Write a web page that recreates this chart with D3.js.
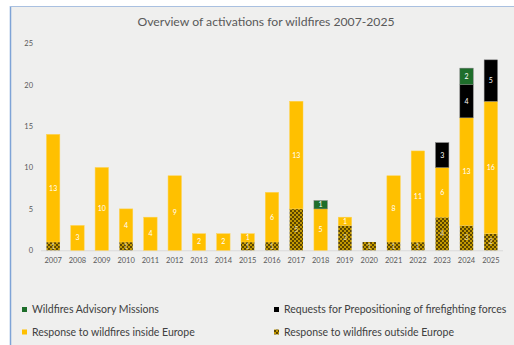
<!DOCTYPE html>
<html><head><meta charset="utf-8">
<script src="https://cdn.jsdelivr.net/npm/d3@7"></script>
<style>
html,body{margin:0;padding:0;background:#fff;}
svg{display:block;}
text{font-family:Lato,"Open Sans",sans-serif;}
</style></head>
<body>
<svg id="chart" width="514" height="345"></svg>
<script>
const years = ["2007","2008","2009","2010","2011","2012","2013","2014","2015","2016","2017","2018","2019","2020","2021","2022","2023","2024","2025"];
const outsideEurope = [1,0,0,1,0,0,0,0,1,1,5,0,3,1,1,1,4,3,2];
const insideEurope  = [13,3,10,4,4,9,2,2,1,6,13,5,1,0,8,11,6,13,16];
const prepositioning = [0,0,0,0,0,0,0,0,0,0,0,0,0,0,0,0,3,4,5];
const advisory      = [0,0,0,0,0,0,0,0,0,0,0,1,0,0,0,0,0,2,0];
const yTicks = [0,5,10,15,20,25];
const seriesNames = ["Wildfires Advisory Missions","Requests for Prepositioning of firefighting forces","Response to wildfires inside Europe","Response to wildfires outside Europe"];

const svg = d3.select("#chart");
// background frame
svg.append("rect").attr("x",10).attr("y",6).attr("width",504).attr("height",339).attr("fill","#efefee");
svg.append("line").attr("x1",10.5).attr("x2",10.5).attr("y1",6).attr("y2",345).attr("stroke","#7ea3d6").attr("stroke-width",1.5);
svg.append("line").attr("x1",10).attr("x2",514).attr("y1",6.5).attr("y2",6.5).attr("stroke","#a9c0e0").attr("stroke-width",1);

// pattern
const defs = svg.append("defs");
const pat = defs.append("pattern").attr("id","checker").attr("width",4).attr("height",4).attr("patternUnits","userSpaceOnUse");
pat.append("rect").attr("width",4).attr("height",4).attr("fill","#c29800");
pat.append("rect").attr("width",2).attr("height",2).attr("fill","#5a4500");
pat.append("rect").attr("x",2).attr("y",2).attr("width",2).attr("height",2).attr("fill","#5a4500");

const x = d3.scaleBand().domain(years).range([41,503]).paddingInner(0.45).paddingOuter(0.225);
const y = d3.scaleLinear().domain([0,25]).range([250.3,43.3]);

// title
svg.append("text").attr("x",266).attr("y",25.5).attr("text-anchor","middle")
  .attr("font-size",12.2).attr("fill","#595959").text("Overview of activations for wildfires 2007-2025");

// y axis labels
const yAxis = d3.axisLeft(y).tickValues(yTicks).tickSize(0).tickPadding(0);
const yg = svg.append("g").attr("transform","translate(33,0)").call(yAxis);
yg.select(".domain").remove();
yg.selectAll("text").attr("font-size",7.5).attr("fill","#595959").attr("font-family","Lato,'Open Sans',sans-serif");

// baseline
svg.append("line").attr("x1",41).attr("x2",503).attr("y1",y(0)+0.5).attr("y2",y(0)+0.5).attr("stroke","#d9d9d9").attr("stroke-width",1);

// x axis labels
const xAxis = d3.axisBottom(x).tickSize(0).tickPadding(0);
const xg = svg.append("g").attr("transform","translate(0,258)").call(xAxis);
xg.select(".domain").remove();
xg.selectAll("text").attr("font-size",7.5).attr("fill","#595959").attr("font-family","Lato,'Open Sans',sans-serif");

// stacks
const keys = ["outside","inside","prep","adv"];
const table = years.map((yr,i)=>({year:yr,outside:outsideEurope[i],inside:insideEurope[i],prep:prepositioning[i],adv:advisory[i]}));
const stack = d3.stack().keys(keys)(table);
const fills = {outside:"url(#checker)",inside:"#ffc000",prep:"#000000",adv:"#1e6e2b"};
stack.forEach(layer=>{
  const g = svg.append("g");
  layer.forEach((d,i)=>{
    const v = d[1]-d[0];
    if(v<=0) return;
    g.append("rect").attr("x",x(years[i])).attr("width",x.bandwidth())
      .attr("y",y(d[1])).attr("height",y(d[0])-y(d[1]))
      .attr("fill",fills[layer.key]).attr("stroke", layer.key==="inside" ? "#ffd24d" : (layer.key==="outside" ? "none" : "#7a7a7a")).attr("stroke-width",0.5);
    g.append("text").attr("x",x(years[i])+x.bandwidth()/2).attr("y",(y(d[0])+y(d[1]))/2)
      .attr("dy","0.35em").attr("text-anchor","middle").attr("font-size",7)
      .attr("fill", layer.key==="outside" ? "#e8dcb0" : "#ffffff").text(v);
  });
});

// legend
const legend = [
  {name:seriesNames[0],fill:"#1e6e2b",x:22,y:309.5},
  {name:seriesNames[1],fill:"#000000",x:274,y:309.5},
  {name:seriesNames[2],fill:"#ffc000",x:22,y:332},
  {name:seriesNames[3],fill:"url(#checker)",x:274,y:332}
];
const lg = svg.append("g");
legend.forEach(l=>{
  lg.append("rect").attr("x",l.x).attr("y",l.y-2.5).attr("width",5).attr("height",5).attr("fill",l.fill);
  lg.append("text").attr("x",l.x+10).attr("y",l.y).attr("dy","0.35em").attr("font-size",10.5).attr("fill","#404040").text(l.name);
});
</script>
</body></html>
